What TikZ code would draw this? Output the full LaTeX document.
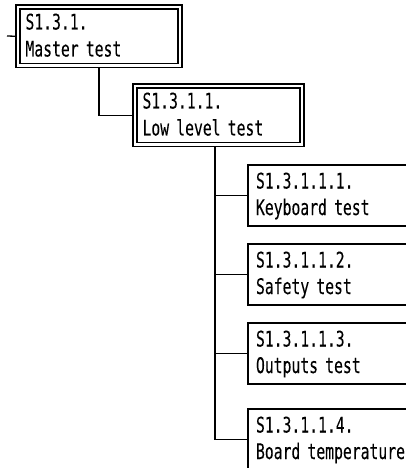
\documentclass[tikz,border=0pt]{standalone}
\usepackage{fontspec}
\newfontfamily\boxfont[FakeStretch=0.685, FakeBold=0.12]{DejaVu Sans Mono}
\usetikzlibrary{calc}

\tikzset{
    dbox/.style={draw, double, double distance=2.8pt, line width=1.2pt, outer sep=2.6pt,
        inner xsep=7.5pt, inner ysep=0pt, anchor=north west,
        font={\boxfont\fontsize{21.5}{27}\selectfont},
        text height=22.5pt, text depth=36pt, text width=#1, align=left},
    sbox/.style={draw, line width=1.2pt, outer sep=0.6pt,
        inner xsep=8pt, inner ysep=0pt, anchor=north west,
        font={\boxfont\fontsize{21.5}{26.5}\selectfont},
        text height=23.5pt, text depth=37.5pt, text width=166pt, align=left},
    link/.style={line width=1.3pt}
}

\begin{document}
\begin{tikzpicture}[x=1pt, y=-1pt]
    \useasboundingbox (0,0) rectangle (406,468);
    \clip (0,0) rectangle (406,468);
    \fill[white] (0,0) rectangle (406,468);
    \node[dbox=147pt] (master) at (15.4,4.4) {S1.3.1.\\Master test};
    \node[dbox=152pt] (lowlevel) at (132.4,83.4) {S1.3.1.1.\\Low level test};
    \foreach \n/\y/\txt in {keyboard/164.4/{S1.3.1.1.1.\\Keyboard test},
        safety/243.4/{S1.3.1.1.2.\\Safety test},
        outputs/322.4/{S1.3.1.1.3.\\Outputs test},
        boardtemp/408.4/{S1.3.1.1.4.\\Board temperature}}
        {\node[sbox] (\n) at (247.4,\y) {\txt};}
    \coordinate (entry) at (7,36);
    \coordinate (trunk) at ($(lowlevel.south west)+(82.6,0)$);
    \draw[link] (entry) -- (master.west);
    \draw[link] (master.south) |- (lowlevel.west);
    \foreach \n in {keyboard,safety,outputs,boardtemp}
        {\draw[link] (trunk) |- (\n.west);}
\end{tikzpicture}
\end{document}
